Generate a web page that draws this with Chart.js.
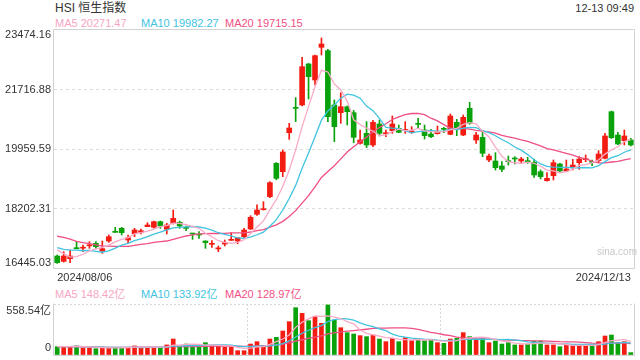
<!DOCTYPE html>
<html lang="zh-CN">
<head>
  <meta charset="UTF-8">
  <title>HSI 恒生指数</title>
  <script src="https://cdn.jsdelivr.net/npm/chart.js"></script>
  <style>
    body {
      margin: 0;
      width: 640px;
      height: 360px;
      background: #fff;
      position: relative;
      overflow: hidden;
      color: #333;
      font-family: 'Liberation Sans', 'Noto Sans CJK SC', sans-serif;
    }
    .txt {
      position: absolute;
      white-space: nowrap;
      font-size: 11px;
      line-height: 13px;
    }
    #priceBox { position: absolute; left: 0; top: 29px; width: 640px; height: 256px; }
    #volBox { position: absolute; left: 0; top: 300px; width: 640px; height: 60px; }
  </style>
</head>
<body>
  <div class="txt" style="left:55px;top:1px;font-size:12px;line-height:14px;">HSI 恒生指数</div>
  <div class="txt" style="right:6px;top:2px;">12-13 09:49</div>
  <div class="txt" style="left:55px;top:17px;color:#f7a6c3;">MA5 20271.47</div>
  <div class="txt" style="left:141px;top:17px;color:#3fc3df;">MA10 19982.27</div>
  <div class="txt" style="left:225px;top:17px;color:#ef4f83;">MA20 19715.15</div>

  <div id="priceBox"><canvas id="priceChart"></canvas></div>

  <div class="txt" style="left:55px;top:288px;color:#f7a6c3;">MA5 148.42亿</div>
  <div class="txt" style="left:141px;top:288px;color:#3fc3df;">MA10 133.92亿</div>
  <div class="txt" style="left:225px;top:288px;color:#ef4f83;">MA20 128.97亿</div>

  <div id="volBox"><canvas id="volChart"></canvas></div>

  <div class="txt" style="left:597px;top:245px;font-size:10px;color:#c8c8c8;">sina.com</div>

  <script>
    // trading days shown (Sep 6 closed by typhoon)
    const dates = [
      '2024/08/06','2024/08/07','2024/08/08','2024/08/09','2024/08/12','2024/08/13','2024/08/14','2024/08/15','2024/08/16',
      '2024/08/19','2024/08/20','2024/08/21','2024/08/22','2024/08/23','2024/08/26','2024/08/27','2024/08/28','2024/08/29','2024/08/30',
      '2024/09/02','2024/09/03','2024/09/04','2024/09/05','2024/09/09','2024/09/10','2024/09/11','2024/09/12','2024/09/13',
      '2024/09/16','2024/09/17','2024/09/19','2024/09/20','2024/09/23','2024/09/24','2024/09/25','2024/09/26','2024/09/27','2024/09/30',
      '2024/10/02','2024/10/03','2024/10/04','2024/10/07','2024/10/08','2024/10/09','2024/10/10','2024/10/14','2024/10/15','2024/10/16',
      '2024/10/17','2024/10/18','2024/10/21','2024/10/22','2024/10/23','2024/10/24','2024/10/25','2024/10/28','2024/10/29','2024/10/30','2024/10/31',
      '2024/11/01','2024/11/04','2024/11/05','2024/11/06','2024/11/07','2024/11/08','2024/11/11','2024/11/12','2024/11/13','2024/11/14','2024/11/15',
      '2024/11/18','2024/11/19','2024/11/20','2024/11/21','2024/11/22','2024/11/25','2024/11/26','2024/11/27','2024/11/28','2024/11/29',
      '2024/12/02','2024/12/03','2024/12/04','2024/12/05','2024/12/06','2024/12/09','2024/12/10','2024/12/11','2024/12/12','2024/12/13'
    ];

    const open = [
      16799,16641,16720,17020,17030,17100,17173,16947,17242,17500,17616,17272,17459,17498,17665,17646,17813,17587,17764,17793,
      17625,17455,17425,17242,17145,17010,17153,17262,17242,17370,17596,18030,18165,18551,19536,19290,20442,21170,21259,22470,
      21997,22962,22864,21259,21032,21209,21032,20127,20422,20078,20698,20412,20501,20570,20510,20465,20695,20521,20402,20412,
      20545,20393,20747,20373,21161,20225,20304,19635,19605,19458,19590,19668,19605,19590,19566,19290,19024,19172,19517,19310,
      19418,19556,19645,19570,19615,19684,21062,20373,20206,20226
    ];
    const high = [
      16830,16927,16976,17222,17124,17222,17222,17242,17419,17646,17646,17419,17616,17596,17783,17833,17833,17764,18158,17833,
      17685,17468,17518,17250,17252,17095,17272,17488,17350,17620,17990,18310,18404,19000,19560,19930,20717,21476,22667,22490,
      22736,23238,22900,21407,21623,21230,21100,20520,20767,20806,20816,20521,20934,20668,20767,20619,20865,20668,20540,20639,
      20599,20993,20836,20964,21338,20452,20501,19812,19851,19586,19753,19733,19714,19714,19664,19340,19261,19635,19540,19635,
      19655,19733,19783,19635,19911,20422,21080,20452,20521,20275
    ];
    const low = [
      16580,16620,16602,17010,16927,17025,17025,16878,17203,17495,17419,17193,17370,17449,17665,17620,17616,17449,17744,17616,
      17547,17291,17321,17025,17055,16927,17095,17262,17160,17340,17580,18000,18160,18520,19050,19142,20245,20767,21230,21436,
      21850,22736,20767,20176,20717,20668,20147,20100,20000,20028,20343,20324,20422,20440,20422,20422,20590,20255,20294,20400,
      20442,20380,20353,20353,20688,20127,19733,19585,19339,19290,19487,19517,19556,19536,19123,19074,19010,19044,19280,19300,
      19340,19359,19586,19468,19556,19670,20270,20090,20078,20048
    ];
    const close = [
      16602,16799,16799,17016,17040,17110,17075,17016,17370,17498,17488,17340,17567,17547,17715,17813,17685,17715,17911,17685,
      17616,17449,17419,17193,17170,17020,17193,17272,17340,17567,17941,18158,18177,18965,19093,19871,20580,21160,22391,22096,
      22716,23061,20914,20619,21209,21062,20304,20225,20078,20747,20422,20422,20698,20452,20521,20471,20688,20353,20324,20471,
      20540,20934,20590,20895,20718,20373,19832,19753,19408,19359,19586,19664,19664,19586,19192,19143,19093,19556,19310,19369,
      19487,19664,19655,19566,19812,20344,20294,20107,20344,20078
    ];
    // closes of the 19 sessions before the first candle, so the averages start where the picture does
    const priorCloses = [17471,17832,18293,17812,17727,17739,17778,17418,17635,17469,17311,17005,17022,17238,17004,17344,17304,16945,16698];

    // turnover, 亿
    const volume = [
      91,91,91,99,80,80,69,80,80,84,84,84,99,84,84,84,84,110,175,91,
      120,99,99,135,99,99,84,84,47,47,120,146,99,175,193,263,365,518,456,376,
      420,347,548,383,299,245,230,212,201,219,175,146,183,146,190,157,172,157,164,135,
      128,175,183,245,201,164,190,135,153,120,135,110,110,120,153,153,110,110,91,110,
      102,110,110,99,146,208,219,135,146,26
    ];

    const priceTicks = [16445.03, 18202.31, 19959.59, 21716.88, 23474.16];
    const volTicks = [0, 558.54];

    const RED = '#f21c12';
    const GREEN = '#0aa20a';
    const MA5_C = '#f9a9c6';
    const MA10_C = '#3fc3df';
    const MA20_C = '#ef4f83';

    Chart.defaults.font.family = "'Liberation Sans', 'Noto Sans CJK SC', sans-serif";
    Chart.defaults.color = '#333';

    function movingAvg(values, n, prior) {
      const all = prior.concat(values);
      const off = prior.length;
      return values.map((_, i) => {
        const end = off + i + 1;
        const w = all.slice(Math.max(0, end - n), end);
        return w.reduce((a, b) => a + b, 0) / w.length;
      });
    }

    const candleColors = close.map((c, i) => c >= open[i] ? RED : GREEN);

    function boxPlugin(drawTop) {
      return {
        id: 'box',
        beforeDatasetsDraw(chart) {
          const { ctx, chartArea: a } = chart;
          const l = Math.round(a.left) - 0.5, r = Math.round(a.right) + 0.5;
          const t = Math.round(a.top) - 0.5, b = Math.round(a.bottom) + 0.5;
          ctx.save();
          ctx.strokeStyle = '#d2d2d2';
          ctx.lineWidth = 1;
          ctx.beginPath();
          ctx.moveTo(l, t); ctx.lineTo(l, b); ctx.lineTo(r, b); ctx.lineTo(r, t);
          if (drawTop) ctx.lineTo(l, t);
          ctx.stroke();
          ctx.restore();
        }
      };
    }

    // fixed axis sizes, no extra room for the end labels
    function fixSize(w, h) {
      return s => {
        if (w !== null) s.width = w;
        if (h !== null) s.height = h;
        s.paddingTop = 0; s.paddingBottom = 0; s.paddingLeft = 0; s.paddingRight = 0;
      };
    }

    function maLine(label, data, color) {
      return {
        type: 'line', label, data, borderColor: color, borderWidth: 1.3,
        pointRadius: 0, tension: 0, fill: false, order: 0
      };
    }

    new Chart(document.getElementById('priceChart'), {
      type: 'bar',
      data: {
        labels: dates,
        datasets: [
          maLine('MA5', movingAvg(close, 5, priorCloses), MA5_C),
          maLine('MA10', movingAvg(close, 10, priorCloses), MA10_C),
          maLine('MA20', movingAvg(close, 20, priorCloses), MA20_C),
          {
            label: 'body', data: open.map((o, i) => [o, close[i]]),
            backgroundColor: candleColors, barThickness: 5, minBarLength: 1, grouped: false, order: 1
          },
          {
            label: 'wick', data: low.map((l, i) => [l, high[i]]),
            backgroundColor: candleColors, barThickness: 1, grouped: false, order: 2
          }
        ]
      },
      options: {
        animation: false,
        responsive: true,
        maintainAspectRatio: false,
        layout: { padding: { top: 1, right: 6, left: 0, bottom: 0 } },
        plugins: { legend: { display: false }, tooltip: { enabled: false } },
        scales: {
          x: {
            offset: true,
            grid: { display: false, drawTicks: false },
            border: { display: false },
            ticks: {
              autoSkip: false, maxRotation: 0, align: 'inner', padding: 3,
              font: { size: 11 },
              callback: (v, i) => (i === 0 || i === dates.length - 1) ? dates[i] : ''
            },
            afterFit: fixSize(null, 17)
          },
          y: {
            min: priceTicks[0],
            max: priceTicks[priceTicks.length - 1],
            afterBuildTicks: s => { s.ticks = priceTicks.map(v => ({ value: v })); },
            afterFit: fixSize(54, null),
            grid: {
              drawTicks: false,
              color: c => (c.index === 0 || c.index === priceTicks.length - 1) ? 'rgba(0,0,0,0)' : '#dcdcdc'
            },
            border: { display: false, dash: [3, 3] },
            ticks: {
              padding: 3,
              font: { size: 11, lineHeight: 0.95 },
              callback: (v, i) => {
                const t = v.toFixed(2);
                if (i === priceTicks.length - 1) return ['', t];
                if (i === 0) return [t, ''];
                return t;
              }
            }
          }
        }
      },
      plugins: [boxPlugin(true)]
    });

    new Chart(document.getElementById('volChart'), {
      type: 'bar',
      data: {
        labels: dates,
        datasets: [
          maLine('MA5', movingAvg(volume, 5, []), MA5_C),
          maLine('MA10', movingAvg(volume, 10, []), MA10_C),
          maLine('MA20', movingAvg(volume, 20, []), MA20_C),
          { label: 'vol', data: volume, backgroundColor: candleColors, barThickness: 4, order: 1 }
        ]
      },
      options: {
        animation: false,
        responsive: true,
        maintainAspectRatio: false,
        layout: { padding: { top: 4, right: 6, left: 0, bottom: 5 } },
        plugins: { legend: { display: false }, tooltip: { enabled: false } },
        scales: {
          x: {
            offset: true,
            ticks: { display: false },
            grid: {
              offset: true, drawTicks: false,
              color: c => (c.index === 30 || c.index === 60) ? '#d6d6d6' : 'rgba(0,0,0,0)'
            },
            border: { display: false, dash: [2, 2] },
            afterFit: fixSize(null, 0)
          },
          y: {
            min: volTicks[0],
            max: volTicks[1],
            afterBuildTicks: s => { s.ticks = volTicks.map(v => ({ value: v })); },
            afterFit: fixSize(54, null),
            grid: {
              drawTicks: false,
              color: c => c.index === 1 ? '#d6d6d6' : 'rgba(0,0,0,0)'
            },
            border: { display: false, dash: [2, 2] },
            ticks: {
              padding: 3,
              font: { size: 11 },
              callback: (v, i) => i === 1 ? ['', v.toFixed(2) + '亿'] : ['0', '']
            }
          }
        }
      },
      plugins: [boxPlugin(false)]
    });
  </script>
</body>
</html>
